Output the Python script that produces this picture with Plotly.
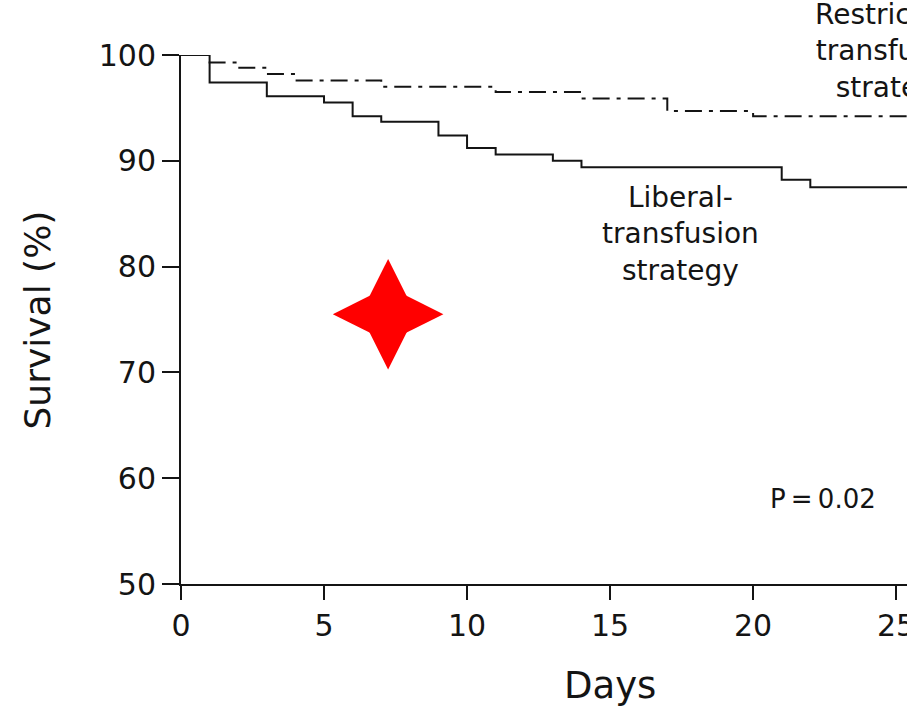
import plotly.graph_objects as go

# Kaplan-Meier step data (days, survival %)
liberal_days = [0, 1, 3, 5, 6, 7, 9, 10, 11, 13, 14, 21, 22, 30]
liberal_surv = [100, 97.4, 96.1, 95.5, 94.2, 93.7, 92.4, 91.2, 90.6, 90.0, 89.4, 88.2, 87.5, 87.5]

restrictive_days = [0, 1, 2, 3, 4, 7, 11, 14, 17, 20, 30]
restrictive_surv = [100, 99.3, 98.8, 98.2, 97.6, 97.0, 96.5, 95.9, 94.7, 94.2, 94.2]

x_ticks = [0, 5, 10, 15, 20, 25, 30]
y_ticks = [50, 60, 70, 80, 90, 100]

star_x = [7.24]
star_y = [75.5]

FONT = "DejaVu Sans"
INK = "#141414"

fig = go.Figure()

fig.add_trace(go.Scatter(
    x=restrictive_days, y=restrictive_surv, mode="lines", line_shape="hv",
    line=dict(color=INK, width=2, dash="17px,7px,4px,7px"), showlegend=False,
))
fig.add_trace(go.Scatter(
    x=liberal_days, y=liberal_surv, mode="lines", line_shape="hv",
    line=dict(color=INK, width=2), showlegend=False,
))
# four-pointed star: union of a tall and a wide diamond at the same point
for sym in ["diamond-tall", "diamond-wide"]:
    fig.add_trace(go.Scatter(
        x=star_x, y=star_y, mode="markers",
        marker=dict(symbol=sym, size=79, color="#ff0000", line=dict(width=0)),
        showlegend=False, cliponaxis=False,
    ))

fig.update_layout(
    width=907, height=710,
    margin=dict(l=181, r=0, t=55, b=126, autoexpand=False),
    plot_bgcolor="white", paper_bgcolor="white",
    font=dict(family=FONT, color=INK),
    xaxis=dict(
        range=[0, 25.38], tickvals=x_ticks, ticktext=[str(v) for v in x_ticks],
        showgrid=False, zeroline=False, showline=True, linecolor=INK, linewidth=2,
        ticks="outside", ticklen=14, tickwidth=2, tickcolor=INK,
        ticklabeloverflow="allow", automargin=False,
        tickfont=dict(family=FONT, size=30, color=INK),
    ),
    yaxis=dict(
        range=[50, 100], tickvals=y_ticks, automargin=False,
        showgrid=False, zeroline=False, showline=True, linecolor=INK, linewidth=2,
        ticks="outside", ticklen=17, tickwidth=2, tickcolor=INK,
        tickfont=dict(family=FONT, size=30, color=INK),
    ),
    annotations=[
        dict(text="Survival (%)", xref="paper", x=-0.197, yref="y", y=75,
             textangle=-90, showarrow=False, xanchor="center", yanchor="middle",
             font=dict(family=FONT, size=36, color=INK)),
        dict(text="Days", xref="x", x=15, yref="paper", y=-0.191,
             showarrow=False, xanchor="center", yanchor="middle",
             font=dict(family=FONT, size=37, color=INK)),
        dict(text="Liberal-<br>transfusion<br>strategy", xref="x", x=17.45, yref="y", y=83.1,
             showarrow=False, xanchor="center", yanchor="middle", align="center",
             font=dict(family=FONT, size=28, color=INK)),
        dict(text="Restrictive-<br>transfusion<br>strategy", xref="paper", x=0.982, yref="paper", y=1.0076,
             showarrow=False, xanchor="center", yanchor="middle", align="center",
             font=dict(family=FONT, size=28, color=INK)),
        dict(text="P\u2009=\u20090.02", xref="x", x=22.43, yref="y", y=58.0,
             showarrow=False, xanchor="center", yanchor="middle",
             font=dict(family=FONT, size=26, color=INK)),
    ],
)

fig.write_html("out.html")
